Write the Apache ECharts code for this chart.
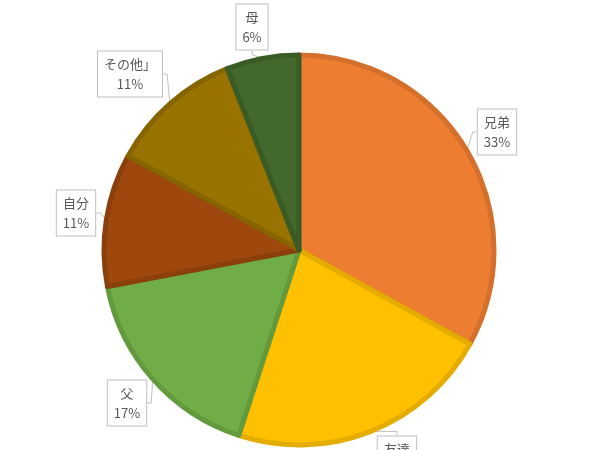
<!DOCTYPE html>
<html>
<head>
<meta charset="utf-8">
<script src="https://cdn.jsdelivr.net/npm/echarts@6/dist/echarts.min.js"></script>
<style>
  html, body { margin: 0; padding: 0; background: #fff; }
  #main { width: 603px; height: 450px; }
</style>
</head>
<body>
<div id="main"></div>
<script>
// data (percent of whole, clockwise from 12 o'clock)
var names = ['兄弟', '友達', '父', '自分', 'その他」', '母'];
var values = [33, 22, 17, 11, 11, 6];
var fills = ['#ED7D31', '#FFC000', '#70AD47', '#9E480E', '#997300', '#43682B'];
var edges = ['#D4702C', '#E5AC00', '#639A3E', '#8A3F0C', '#866500', '#3A5B25'];

// where the callout boxes sit (centre of each box)
var labelPos = [[497, 132], [397, 459], [127, 403], [76, 213], [130, 74], [252, 27]];

var myChart = echarts.init(document.getElementById('main'));

var pieData = [];
for (var i = 0; i < names.length; i++) {
    pieData.push({
        name: names[i],
        value: values[i],
        itemStyle: { color: fills[i], borderColor: edges[i] }
    });
}

var option = {
    animation: false,
    series: [
        {
            type: 'pie',
            center: [299, 250],
            radius: 195,
            startAngle: 90,
            clockwise: true,
            percentPrecision: 0,
            itemStyle: { borderWidth: 5 },
            label: {
                show: true,
                position: 'outside',
                formatter: '{b}\n{d}%',
                color: '#595959',
                fontSize: 13,
                lineHeight: 20,
                fontFamily: 'Noto Sans CJK JP',
                backgroundColor: '#fff',
                borderColor: '#BFBFBF',
                borderWidth: 1,
                padding: [3, 6, 2, 6],
                align: 'center'
            },
            labelLine: {
                show: true,
                length: 4,
                length2: 4,
                lineStyle: { color: '#BFBFBF', width: 1 }
            },
            labelLayout: function (params) {
                var p = labelPos[params.dataIndex];
                return { x: p[0], y: p[1], align: 'center', verticalAlign: 'middle' };
            },
            data: pieData
        }
    ]
};

myChart.setOption(option);
</script>
</body>
</html>
